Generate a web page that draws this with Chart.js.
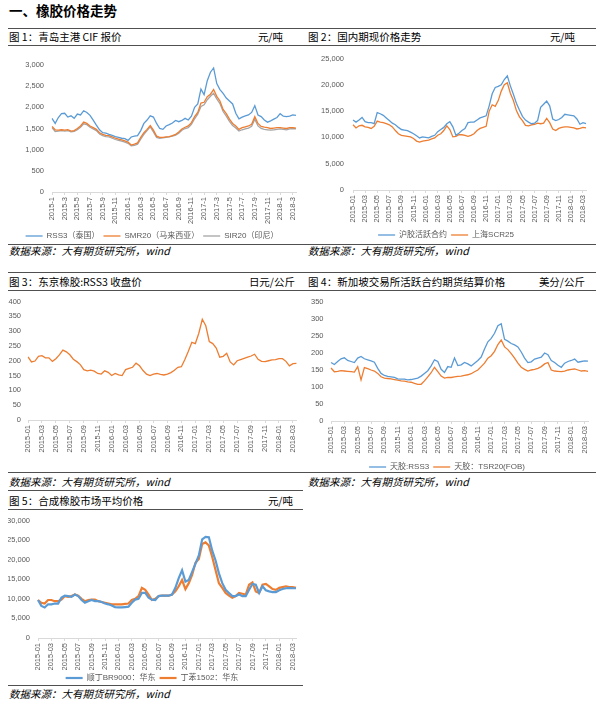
<!DOCTYPE html>
<html>
<head>
<meta charset="utf-8">
<script src="https://cdn.jsdelivr.net/npm/chart.js@4.4.1/dist/chart.umd.min.js"></script>
<style>
  html, body { margin: 0; padding: 0; background: #fff; }
  #page { position: relative; width: 612px; height: 712px; overflow: hidden;
          font-family: 'Noto Sans CJK SC', sans-serif; color: #000; }
  .abs { position: absolute; }
  .rule { position: absolute; height: 1px; background: #505050; }
  .h1 { font-size: 13.5px; font-weight: bold; line-height: 18px; }
  .title { font-size: 10.5px; line-height: 14px; white-space: nowrap; }
  .unit { font-size: 10.5px; line-height: 14px; text-align: right; white-space: nowrap; }
  .src { font-size: 10.5px; line-height: 14px; font-style: italic; white-space: nowrap; }
  canvas { position: absolute; }
</style>
</head>
<body>
<div id="page">
  <div class="abs h1" style="left:9px; top:1px;">一、橡胶价格走势</div>

  <div class="rule" style="left:8px; width:588px; top:28px;"></div>
  <div class="abs title" style="left:9px; top:30px;">图 1：青岛主港 CIF 报价</div>
  <div class="abs unit" style="left:230px; width:53px; top:30px;">元/吨</div>
  <div class="abs title" style="left:308px; top:30px;">图 2：国内期现价格走势</div>
  <div class="abs unit" style="left:520px; width:55px; top:30px;">元/吨</div>
  <div class="rule" style="left:8px; width:588px; top:45px;"></div>

  <div class="rule" style="left:8px; width:588px; top:244px;"></div>
  <div class="abs src" style="left:9px; top:244px;">数据来源：大有期货研究所，wind</div>
  <div class="abs src" style="left:308px; top:244px;">数据来源：大有期货研究所，wind</div>

  <div class="rule" style="left:8px; width:588px; top:272px;"></div>
  <div class="abs title" style="left:9px; top:275px;">图 3：东京橡胶:RSS3 收盘价</div>
  <div class="abs unit" style="left:230px; width:65px; top:275px;">日元/公斤</div>
  <div class="abs title" style="left:308px; top:275px;">图 4：新加坡交易所活跃合约期货结算价格</div>
  <div class="abs unit" style="left:520px; width:65px; top:275px;">美分/公斤</div>
  <div class="rule" style="left:8px; width:588px; top:290px;"></div>

  <div class="rule" style="left:8px; width:588px; top:472px;"></div>
  <div class="abs src" style="left:9px; top:475px;">数据来源：大有期货研究所，wind</div>
  <div class="abs src" style="left:308px; top:475px;">数据来源：大有期货研究所，wind</div>

  <div class="rule" style="left:8px; width:295px; top:490px;"></div>
  <div class="abs title" style="left:9px; top:494px;">图 5：合成橡胶市场平均价格</div>
  <div class="abs unit" style="left:230px; width:63px; top:494px;">元/吨</div>
  <div class="rule" style="left:8px; width:295px; top:509px;"></div>

  <div class="rule" style="left:8px; width:295px; top:685px;"></div>
  <div class="abs src" style="left:9px; top:687px;">数据来源：大有期货研究所，wind</div>

  <canvas id="c1" width="296" height="200" style="left:8px; top:50px;"></canvas>
  <canvas id="c2" width="290" height="204" style="left:306px; top:45px;"></canvas>
  <canvas id="c3" width="296" height="170" style="left:8px; top:290px;"></canvas>
  <canvas id="c4" width="290" height="191" style="left:306px; top:290px;"></canvas>
  <canvas id="c5" width="296" height="184" style="left:8px; top:508px;"></canvas>
</div>

<script>
// semi-monthly dates, 2015-01 .. 2018-03
const dates = [];
for (let y = 2015; y <= 2018; y++) {
    for (let m = 1; m <= 12; m++) {
        if (y === 2018 && m > 3) break;
        const mm = m < 10 ? '0' + m : '' + m;
        dates.push(y + '-' + mm + '-01', y + '-' + mm + '-16');
    }
}

// 图1 青岛主港 CIF
const rss3Cif = [1740,1620,1760,1850,1860,1770,1800,1740,1840,1820,
    1920,1880,1810,1700,1580,1470,1400,1390,1360,1340,
    1310,1290,1270,1260,1220,1300,1320,1330,1450,1620,
    1700,1800,1770,1620,1500,1480,1560,1590,1630,1690,
    1660,1690,1740,1700,1790,2000,2080,2430,2300,2630,
    2830,2930,2560,2420,2330,2220,2150,2080,1860,1730,
    1770,1800,1820,1880,2040,1820,1780,1700,1650,1680,
    1720,1760,1850,1790,1780,1790,1820,1810];
const smr20Cif = [1550,1470,1460,1470,1460,1470,1440,1450,1500,1560,
    1650,1620,1560,1520,1480,1400,1360,1340,1330,1300,
    1270,1250,1230,1210,1180,1110,1130,1160,1290,1400,
    1480,1570,1460,1320,1290,1290,1300,1310,1330,1360,
    1420,1490,1530,1560,1640,1780,1880,2100,2120,2250,
    2310,2420,2260,2150,1950,1850,1720,1620,1560,1480,
    1520,1540,1560,1600,1780,1620,1550,1530,1520,1500,
    1510,1520,1520,1510,1500,1520,1520,1510];
const sir20Cif = [1520,1430,1440,1450,1440,1450,1420,1430,1470,1530,
    1610,1590,1530,1490,1450,1370,1330,1310,1300,1270,
    1240,1220,1200,1180,1150,1090,1100,1130,1250,1360,
    1450,1540,1420,1290,1270,1280,1290,1300,1320,1340,
    1390,1460,1500,1520,1600,1730,1840,2020,2060,2180,
    2260,2330,2200,2090,1900,1790,1670,1570,1510,1440,
    1470,1490,1510,1550,1720,1560,1500,1480,1470,1460,
    1470,1480,1490,1480,1470,1490,1500,1490];

// 图2 国内期现
const shfeMain = [13300,12900,13300,13800,13000,12800,12800,12600,14700,14500,
    14200,13700,13200,12700,12400,11900,11500,11400,11300,11000,
    10700,10300,9900,10100,10000,9900,10200,10400,11100,11500,
    11900,12600,13000,12000,10400,10800,11300,11700,12800,12900,
    12900,13300,13700,13900,14100,16000,18300,19500,19700,20000,
    21000,21700,19800,18200,16500,15200,14000,13300,12900,12600,
    12700,13200,15700,16300,16900,16000,13500,13200,13400,13800,
    14400,14300,14200,14100,13500,12500,12800,12600];
const scr25 = [12400,11800,12200,12300,12000,11900,11700,12100,13100,12900,
    12800,12600,12400,12000,11300,10700,10400,10300,10200,10100,
    9800,9300,9100,9300,9400,9500,9700,9900,10400,10700,
    11300,12200,11500,10100,10200,10500,10500,10400,10200,10400,
    10700,11300,11700,11900,12100,15000,16200,15900,17000,18800,
    20000,20400,18400,17000,15100,13900,13200,12300,12200,12400,
    12500,12700,12600,12700,13600,12800,11600,11300,11700,11900,
    12000,12000,11900,11800,11600,11700,11900,11800];

// 图3 东京 RSS3
const tocomRss3 = [213,196,199,215,217,210,210,198,207,220,
    236,230,220,205,197,187,170,166,168,165,
    157,155,166,161,150,157,152,150,170,174,
    178,192,183,167,155,150,155,157,154,152,
    155,160,168,178,180,204,232,262,258,293,
    340,318,265,258,243,212,215,225,196,186,
    200,204,208,212,216,222,205,198,197,200,
    203,204,207,207,198,183,190,191];

// 图4 新加坡
const sgxRss3 = [172,166,175,183,186,178,175,172,185,190,
    183,180,177,173,155,140,134,131,130,128,
    124,123,123,121,122,124,126,132,140,148,
    162,180,175,152,143,160,158,185,163,165,
    172,168,162,170,178,188,212,233,243,258,
    280,286,240,235,228,224,218,203,185,172,
    174,182,185,188,200,195,178,172,164,158,
    170,175,178,182,173,175,177,176];
const sgxTsr20 = [156,145,146,148,147,146,145,144,160,121,
    157,154,150,147,140,130,126,125,124,122,
    120,118,117,115,114,111,108,108,118,130,
    142,158,145,132,126,128,128,130,131,132,
    134,136,139,145,150,160,170,185,192,205,
    225,238,218,210,198,185,170,158,152,147,
    150,152,155,160,168,172,150,147,146,145,
    147,150,152,153,150,147,148,146];

// 图5 合成橡胶
const br9000 = [9700,8200,7800,8600,8600,8800,8800,10300,10800,10700,
    10500,11100,10700,9700,9000,9400,9700,9400,9400,9200,
    8800,8600,8300,7900,7800,7800,7900,8000,9000,9800,
    10000,11500,11500,10300,9800,9700,10700,10800,10800,10800,
    11100,12800,15300,17300,14400,14800,16900,19000,21100,25200,
    25800,25700,22300,19800,16500,14000,12300,11500,10700,10700,
    11100,10700,10700,12300,13800,13600,11500,13200,12200,11900,
    11700,11700,12200,12500,12700,12800,12700,12700];
const sbr1502 = [9700,9000,8800,9700,9700,9400,9400,9800,10700,10500,
    10700,11100,10800,10000,9400,9700,9800,9800,9400,9200,
    9000,8800,8600,8600,8600,8600,8700,8800,9700,10000,
    10700,12800,12300,11100,9700,10000,10700,10800,10800,10800,
    11100,11900,13200,14800,12500,14000,16100,19200,20200,24000,
    24400,23600,20700,17300,14000,12800,11500,10800,10300,10700,
    11500,11300,11100,13600,14200,11900,11500,13600,13800,13200,
    12500,12300,12800,13000,13200,13000,13000,12800];

const BLUE = '#5b9bd5', ORANGE = '#ed7d31', GREY = '#a5a5a5';

Chart.defaults.font.family = "'Liberation Sans', 'Noto Sans CJK SC', sans-serif";
Chart.defaults.color = '#595959';

// tick label only on the 1st of odd months
function monthLabel(i, short) {
    const p = dates[i].split('-');
    if (p[2] !== '01' || (+p[1]) % 2 === 0) return null;
    return short ? p[0] + '-' + (+p[1]) : p[0] + '-' + p[1];
}

function xAxis(short, height) {
    return {
        type: 'category',
        afterFit: s => { s.height = height; },
        grid: { drawOnChartArea: false, drawTicks: true, tickLength: 3, color: '#d9d9d9' },
        border: { color: '#d9d9d9' },
        ticks: {
            autoSkip: false, minRotation: 90, maxRotation: 90, padding: 2,
            font: { size: 7.5 },
            callback: (v) => monthLabel(v, short)
        }
    };
}

function yAxis(max, step, width, pad, comma) {
    return {
        min: 0, max: max,
        afterFit: s => { s.width = width; },
        grid: { display: false, drawTicks: false },
        border: { display: false },
        ticks: {
            stepSize: step, padding: pad, font: { size: 7.5 },
            callback: (v) => comma ? v.toLocaleString('en-US') : v
        }
    };
}

function line(label, data, color, width) {
    return {
        label: label, data: data, borderColor: color, backgroundColor: color,
        borderWidth: width, pointRadius: 0, tension: 0, fill: false
    };
}

function makeChart(id, datasets, x, y, padding, showLegend) {
    return new Chart(document.getElementById(id), {
        type: 'line',
        data: { labels: dates, datasets: datasets },
        options: {
            responsive: false,
            animation: false,
            layout: { padding: padding },
            scales: { x: x, y: y },
            plugins: {
                tooltip: { enabled: false },
                legend: {
                    display: showLegend,
                    position: 'bottom',
                    labels: {
                        usePointStyle: true, pointStyle: 'line', pointStyleWidth: 17,
                        padding: 4, font: { size: 8 }, color: '#595959'
                    }
                }
            }
        }
    });
}

makeChart('c1', [
    line('RSS3（泰国）', rss3Cif, BLUE, 1.3),
    line('SMR20（马来西亚）', smr20Cif, ORANGE, 1.3),
    line('SIR20（印尼）', sir20Cif, GREY, 1.3)
], xAxis(true, 36), yAxis(3000, 500, 44, 8, true),
   { top: 15, right: 8, left: 0, bottom: 0 }, true);

makeChart('c2', [
    line('沪胶活跃合约', shfeMain, BLUE, 1.3),
    line('上海SCR25', scr25, ORANGE, 1.3)
], xAxis(false, 37), yAxis(25000, 5000, 47, 9, true),
   { top: 13, right: 10, left: 0, bottom: 0 }, true);

makeChart('c3', [
    line('RSS3', tocomRss3, ORANGE, 1.3)
], xAxis(false, 40), yAxis(400, 50, 20, 7, false),
   { top: 10, right: 5, left: 0, bottom: 0 }, false);

makeChart('c4', [
    line('天胶:RSS3', sgxRss3, BLUE, 1.3),
    line('天胶：TSR20(FOB)', sgxTsr20, ORANGE, 1.3)
], xAxis(false, 38), yAxis(350, 50, 25, 7.5, false),
   { top: 11, right: 8, left: 0, bottom: 0 }, true);

makeChart('c5', [
    line('顺丁BR9000：华东', br9000, BLUE, 2.2),
    line('丁苯1502：华东', sbr1502, ORANGE, 2.2)
], xAxis(false, 32), yAxis(30000, 5000, 30, 8, true),
   { top: 10, right: 8, left: 0, bottom: 0 }, true);
</script>
</body>
</html>
